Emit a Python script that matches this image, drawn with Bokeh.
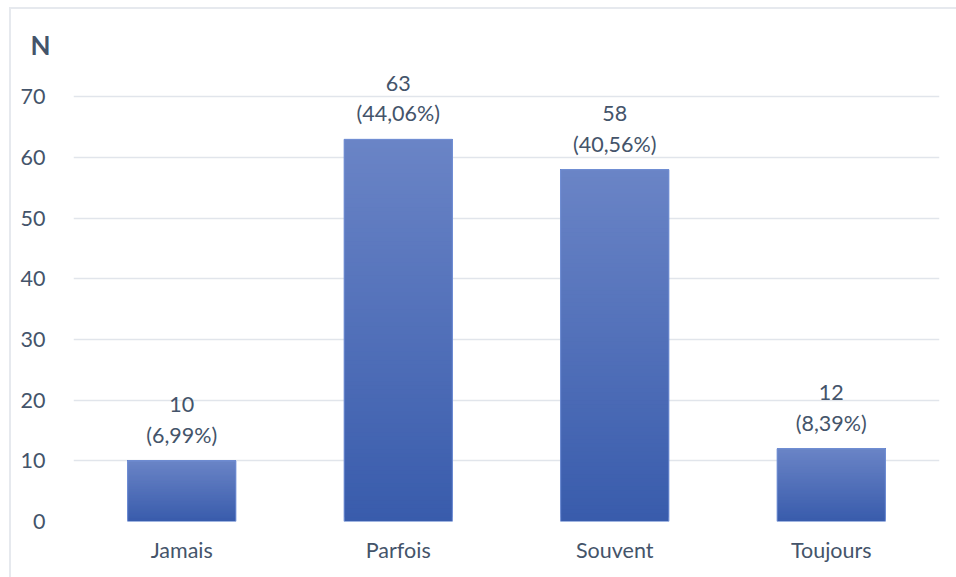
from bokeh.plotting import figure
from bokeh.models import Range1d, FixedTicker, ColumnDataSource
from bokeh.core.properties import value
from bokeh.embed import file_html
from bokeh.resources import INLINE

# Survey answers and their counts
categories = ["Jamais", "Parfois", "Souvent", "Toujours"]
counts = [10, 63, 58, 12]
y_ticks = [0, 10, 20, 30, 40, 50, 60, 70]
axis_title = "N"

FONT = "Lato"
TEXT = "#44546a"
GRID = "#e1e5eb"
TOP_RGB = (106, 132, 198)
BOTTOM_RGB = (57, 92, 172)

total = sum(counts)
xs = list(range(1, len(categories) + 1))
labels = [f"{c}\n({100 * c / total:.2f}%)".replace(".", ",") for c in counts]

p = figure(width=947, height=570, output_backend="svg", toolbar_location=None,
           x_range=Range1d(0.5, len(categories) + 0.5), y_range=Range1d(0, 76),
           min_border_left=62, min_border_right=19, min_border_top=51,
           min_border_bottom=58, margin=(7, 0, 0, 9),
           styles={"border-left": "2px solid #e6e9ee", "border-top": "2px solid #e6e9ee",
                   "box-sizing": "border-box"})
p.outline_line_color = None
p.background_fill_color = "white"
p.border_fill_color = "white"

# Title "N" sits above the value axis
p.title.text = axis_title
p.title.align = "left"
p.title.offset = -43
p.title.standoff = 0
p.title.text_font = FONT
p.title.text_font_style = "bold"
p.title.text_font_size = "26px"
p.title.text_color = TEXT

# Vertical gradient per bar: stacked slices, each running from its start to the bar top
n_slices = 90
left, right, bottom, top, colors = [], [], [], [], []
for x, c in zip(xs, counts):
    for i in range(n_slices):
        t = i / (n_slices - 1)
        rgb = tuple(round(b + (tp - b) * t) for b, tp in zip(BOTTOM_RGB, TOP_RGB))
        left.append(x - 0.25)
        right.append(x + 0.25)
        bottom.append(c * i / n_slices)
        top.append(c)
        colors.append("#%02x%02x%02x" % rgb)
p.quad(left=left, right=right, bottom=bottom, top=top, fill_color=colors,
       line_color=None)

bars = ColumnDataSource(dict(x=xs, count=counts, label=labels))
p.vbar(x="x", top="count", width=0.5, source=bars, fill_color=None,
       line_color="#7391d6", line_width=1)

p.text(x="x", y="count", text="label", source=bars, text_align="center",
       text_baseline="bottom", y_offset=-13, text_font=value(FONT),
       text_font_size="21.5px", text_color=TEXT, text_line_height=1.17)

p.xaxis.ticker = FixedTicker(ticks=xs)
p.xaxis.major_label_overrides = {x: c for x, c in zip(xs, categories)}
p.yaxis.ticker = FixedTicker(ticks=y_ticks)
for ax in (p.xaxis, p.yaxis):
    ax.axis_line_color = None
    ax.major_tick_line_color = None
    ax.minor_tick_line_color = None
    ax.major_label_text_font = FONT
    ax.major_label_text_font_size = "21.5px"
    ax.major_label_text_color = TEXT
p.yaxis.major_label_standoff = 22
p.xaxis.major_label_standoff = 9

p.xgrid.grid_line_color = None
p.ygrid.grid_line_color = GRID
p.ygrid.grid_line_width = 1.5

open("out.html", "w").write(file_html(p, INLINE))
